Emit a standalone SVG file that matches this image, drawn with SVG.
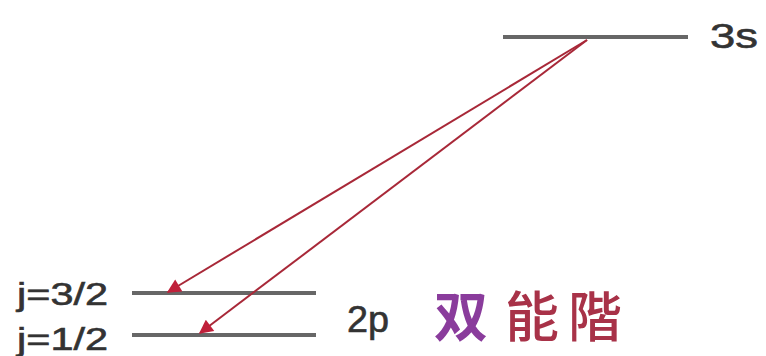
<svg xmlns="http://www.w3.org/2000/svg" width="766" height="356" viewBox="0 0 766 356">
<style>
.lvl{stroke:#676767;stroke-width:4;fill:none}
.arr{stroke:#a82838;stroke-width:2;fill:none;marker-end:url(#ah)}
.lbl{font-family:"Liberation Sans",Arial,sans-serif;fill:#333333;stroke:#333333;stroke-width:0.6}
.cjk{font-family:"Noto Sans CJK SC","Noto Sans CJK JP",sans-serif}
</style>
<defs>
<marker id="ah" viewBox="0 0 10 10" refX="9" refY="5" markerWidth="9" markerHeight="7" orient="auto" markerUnits="strokeWidth">
<path d="M0,0 L10,5 L0,10 z" fill="#c0203a"/>
</marker>
</defs>
<rect width="766" height="356" fill="#ffffff"/>
<g id="level-3s">
<line class="lvl" x1="503" y1="37" x2="688" y2="37"/>
<text class="lbl" x="710" y="48" font-size="35" textLength="48" lengthAdjust="spacingAndGlyphs">3s</text>
</g>
<g id="level-2p32">
<line class="lvl" x1="132" y1="293" x2="316" y2="293"/>
<text class="lbl" x="17" y="305" font-size="31" textLength="91" lengthAdjust="spacingAndGlyphs">j=3/2</text>
</g>
<g id="level-2p12">
<line class="lvl" x1="132" y1="335" x2="316" y2="335"/>
<text class="lbl" x="17" y="350" font-size="31" textLength="91" lengthAdjust="spacingAndGlyphs">j=1/2</text>
</g>
<g id="label-2p">
<text class="lbl" x="347" y="332" font-size="36" textLength="42" lengthAdjust="spacingAndGlyphs">2p</text>
<text class="cjk" x="434" y="337" font-size="54" font-weight="bold" fill="#8a3c9c">双</text>
<text class="cjk" x="505" y="337" font-size="54" font-weight="500" fill="#a83248">能</text>
<text class="cjk" x="568" y="337" font-size="54" font-weight="500" fill="#a83248">階</text>
</g>
<g id="connectors">
<line class="arr" x1="587" y1="40" x2="168" y2="292"/>
<line class="arr" x1="587" y1="40" x2="200" y2="333"/>
</g>
</svg>
